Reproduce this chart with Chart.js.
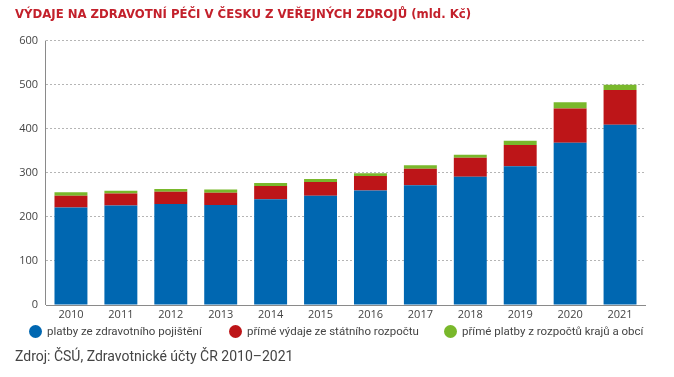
<!DOCTYPE html>
<html lang="cs">
<head>
<meta charset="utf-8">
<title>Výdaje na zdravotní péči</title>
<script src="https://cdn.jsdelivr.net/npm/chart.js@4"></script>
<style>
  body { margin: 0; background: #fff; }
  #wrap { position: relative; width: 674px; height: 377px; }
  #legenda span.item { position: absolute; top: 324px; font: 11.5px Roboto, sans-serif; color: #444; white-space: nowrap; }
  #legenda i { display: inline-block; width: 13px; height: 13px; border-radius: 50%; vertical-align: -3px; margin-right: 5px; }
  #zdroj { position: absolute; left: 15px; top: 348px; font: 14px Roboto, sans-serif; color: #444; }
</style>
</head>
<body>
<div id="wrap">
  <canvas id="graf"></canvas>
  <div id="legenda"></div>
  <div id="zdroj">Zdroj: ČSÚ, Zdravotnické účty ČR 2010–2021</div>
</div>
<script>
const roky = ['2010', '2011', '2012', '2013', '2014', '2015', '2016', '2017', '2018', '2019', '2020', '2021'];
const pojisteni = [221, 226, 229, 227, 240, 248, 260, 272, 291, 315, 368, 409];
const statniRozpocet = [27, 27, 28, 28, 30, 31, 33, 37, 43, 48, 78, 79];
const krajeObce = [8, 6, 6, 7, 7, 7, 6, 8, 7, 10, 14, 12];
const nazvyRad = ['platby ze zdravotního pojištění', 'přímé výdaje ze státního rozpočtu', 'přímé platby z rozpočtů krajů a obcí'];
const barvy = ['#0067b1', '#bd1518', '#79b82b'];

const legendaX = [29, 229, 444];
const legenda = document.getElementById('legenda');
nazvyRad.forEach((nazev, i) => {
  const s = document.createElement('span');
  s.className = 'item';
  s.style.left = legendaX[i] + 'px';
  s.innerHTML = '<i style="background:' + barvy[i] + '"></i>' + nazev;
  legenda.appendChild(s);
});

const font = "'Open Sans', sans-serif";

new Chart(document.getElementById('graf'), {
  type: 'bar',
  data: {
    labels: roky,
    datasets: [pojisteni, statniRozpocet, krajeObce].map((d, i) => ({
      label: nazvyRad[i],
      data: d,
      backgroundColor: barvy[i],
      borderWidth: 0,
      barPercentage: 0.66,
      categoryPercentage: 1
    }))
  },
  options: {
    responsive: true,
    maintainAspectRatio: false,
    animation: false,
    layout: { padding: { left: 15, right: 29, bottom: 52 } },
    plugins: {
      legend: { display: false },
      tooltip: { enabled: false },
      title: {
        display: true,
        text: 'VÝDAJE NA ZDRAVOTNÍ PÉČI V ČESKU Z VEŘEJNÝCH ZDROJŮ (mld. Kč)',
        align: 'start',
        color: '#c3202b',
        font: { size: 13, weight: 'bold', family: "'DejaVu Sans Condensed', sans-serif" },
        padding: { top: 7, bottom: 18 }
      }
    },
    scales: {
      x: {
        stacked: true,
        // jen první svislá čára = plná levá osa
        grid: { drawTicks: false, color: c => c.index === 0 ? '#8a8a8a' : 'transparent' },
        border: { display: true, color: '#8a8a8a', width: 1 },
        ticks: { color: '#444', font: { size: 11, family: font }, padding: 3, maxRotation: 0 },
        afterFit: s => { s.height = 20; }
      },
      y: {
        stacked: true,
        min: 0,
        max: 600,
        // vodorovné čáry tečkované
        grid: { color: '#b5b5b5', drawTicks: false },
        border: { display: false, dash: [2, 2] },
        ticks: { stepSize: 100, color: '#444', font: { size: 11, family: font }, padding: 8 },
        afterFit: s => { s.width = 31; }
      }
    }
  }
});
</script>
</body>
</html>
